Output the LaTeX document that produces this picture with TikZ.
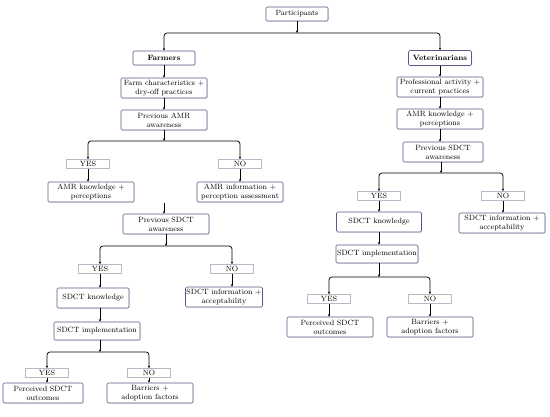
\documentclass[tikz,border=0pt]{standalone}
\usetikzlibrary{arrows.meta,shadows}
\definecolor{boxline}{RGB}{92,88,138}
\definecolor{ynline}{RGB}{185,185,200}
\begin{document}
\begin{tikzpicture}[x=1pt,y=-1pt,
  every node/.style={font=\fontsize{7.6}{9}\selectfont, inner sep=1pt, align=center},
  mainbox/.style={draw=boxline, line width=0.6pt, rounded corners=1.2pt, fill=white,
    minimum height=20pt, drop shadow={opacity=0.25, shadow xshift=0.6pt, shadow yshift=-0.6pt}},
  ynbox/.style={draw=ynline, line width=0.6pt, fill=white, minimum width=43pt, minimum height=9pt, inner sep=0pt},
  arr/.style={-{Stealth[length=2.6pt,width=2.4pt]}, line width=0.7pt},
  branch/.style={arr, rounded corners=3pt}]
\useasboundingbox (0,0) rectangle (550,416);

% top
\node[mainbox, minimum width=62pt, minimum height=14pt] (part) at (297,14) {Participants};
\coordinate (j0) at (297,33);

% farmers column
\node[mainbox, minimum width=62pt, minimum height=14pt, font=\fontsize{7.6}{9}\selectfont\bfseries] (farm) at (164,58) {Farmers};
\node[mainbox, minimum width=86pt] (fc) at (164,88) {Farm characteristics +\\dry-off practices};
\node[mainbox, minimum width=86pt] (amr1) at (164,120) {Previous AMR\\awareness};
\coordinate (j1) at (164,141);
\node[ynbox] (yes1) at (88,164) {YES};
\node[ynbox] (no1) at (240,164) {NO};
\node[mainbox, minimum width=86pt] (amrk1) at (91,192) {AMR knowledge +\\perceptions};
\node[mainbox, minimum width=86pt] (amri1) at (240,192) {AMR information +\\perception assessment};
\coordinate (j2) at (164,203);
\node[mainbox, minimum width=86pt] (sdct1) at (166,224) {Previous SDCT\\awareness};
\coordinate (j3) at (166,246);
\node[ynbox] (yes2) at (100,269) {YES};
\node[ynbox] (no2) at (232,269) {NO};
\node[mainbox, minimum width=72pt] (sk1) at (93,298) {SDCT knowledge};
\node[mainbox, minimum width=72pt] (si1) at (224,297) {SDCT information +\\acceptability};
\node[mainbox, minimum width=86pt, minimum height=18pt] (imp1) at (97,331) {SDCT implementation};
\coordinate (j4) at (100,352);
\node[ynbox] (yes3) at (47,373) {YES};
\node[ynbox] (no3) at (149,373) {NO};
\node[mainbox, minimum width=80pt] (po1) at (43,393) {Perceived SDCT\\outcomes};
\node[mainbox, minimum width=86pt] (ba1) at (150,393) {Barriers +\\adoption factors};

% veterinarians column
\node[mainbox, minimum width=63pt, minimum height=15pt, font=\fontsize{7.6}{9}\selectfont\bfseries] (vet) at (440,58) {Veterinarians};
\node[mainbox, minimum width=86pt] (pa) at (440,87) {Professional activity +\\current practices};
\node[mainbox, minimum width=86pt] (amrk2) at (440,119) {AMR knowledge +\\perceptions};
\node[mainbox, minimum width=80pt] (sdct2) at (443,152) {Previous SDCT\\awareness};
\coordinate (j5) at (441,173);
\node[ynbox] (yes4) at (379,196) {YES};
\node[ynbox] (no4) at (503,196) {NO};
\node[mainbox, minimum width=85pt] (sk2) at (379,222) {SDCT knowledge};
\node[mainbox, minimum width=86pt] (si2) at (502,223) {SDCT information +\\acceptability};
\node[mainbox, minimum width=80pt, minimum height=18pt] (imp2) at (377,254) {SDCT implementation};
\coordinate (j6) at (379,277);
\node[ynbox] (yes5) at (329,299) {YES};
\node[ynbox] (no5) at (430,299) {NO};
\node[mainbox, minimum width=86pt] (po2) at (330,327) {Perceived SDCT\\outcomes};
\node[mainbox, minimum width=86pt] (ba2) at (430,327) {Barriers +\\adoption factors};

% connectors
\draw[arr] (part) -- (j0);
\draw[branch] (j0) -| (farm.north);
\draw[branch] (j0) -| (vet.north);

\draw[arr] (farm) -- (fc);
\draw[arr] (fc) -- (amr1);
\draw[arr] (amr1) -- (j1);
\draw[branch] (j1) -| (yes1.north);
\draw[branch] (j1) -| (no1.north);
\draw[arr] (yes1) -- (yes1 |- amrk1.north);
\draw[arr] (no1) -- (no1 |- amri1.north);
\draw[arr] (j2) -- (j2 |- sdct1.north);
\draw[arr] (sdct1) -- (j3);
\draw[branch] (j3) -| (yes2.north);
\draw[branch] (j3) -| (no2.north);
\draw[arr] (yes2) -- (yes2 |- sk1.north);
\draw[arr] (no2) -- (no2 |- si1.north);
\draw[arr] (yes2 |- sk1.south) -- (yes2 |- imp1.north);
\draw[arr] (yes2 |- imp1.south) -- (j4);
\draw[branch] (j4) -| (yes3.north);
\draw[branch] (j4) -| (no3.north);
\draw[arr] (yes3) -- (yes3 |- po1.north);
\draw[arr] (no3) -- (no3 |- ba1.north);

\draw[arr] (vet) -- (pa);
\draw[arr] (pa) -- (amrk2);
\draw[arr] (amrk2.south) -- (amrk2.south |- sdct2.north);
\draw[arr] (j5 |- sdct2.south) -- (j5);
\draw[branch] (j5) -| (yes4.north);
\draw[branch] (j5) -| (no4.north);
\draw[arr] (yes4) -- (yes4 |- sk2.north);
\draw[arr] (no4) -- (no4 |- si2.north);
\draw[arr] (yes4 |- sk2.south) -- (yes4 |- imp2.north);
\draw[arr] (yes4 |- imp2.south) -- (j6);
\draw[branch] (j6) -| (yes5.north);
\draw[branch] (j6) -| (no5.north);
\draw[arr] (yes5) -- (yes5 |- po2.north);
\draw[arr] (no5) -- (no5 |- ba2.north);
\end{tikzpicture}
\end{document}
